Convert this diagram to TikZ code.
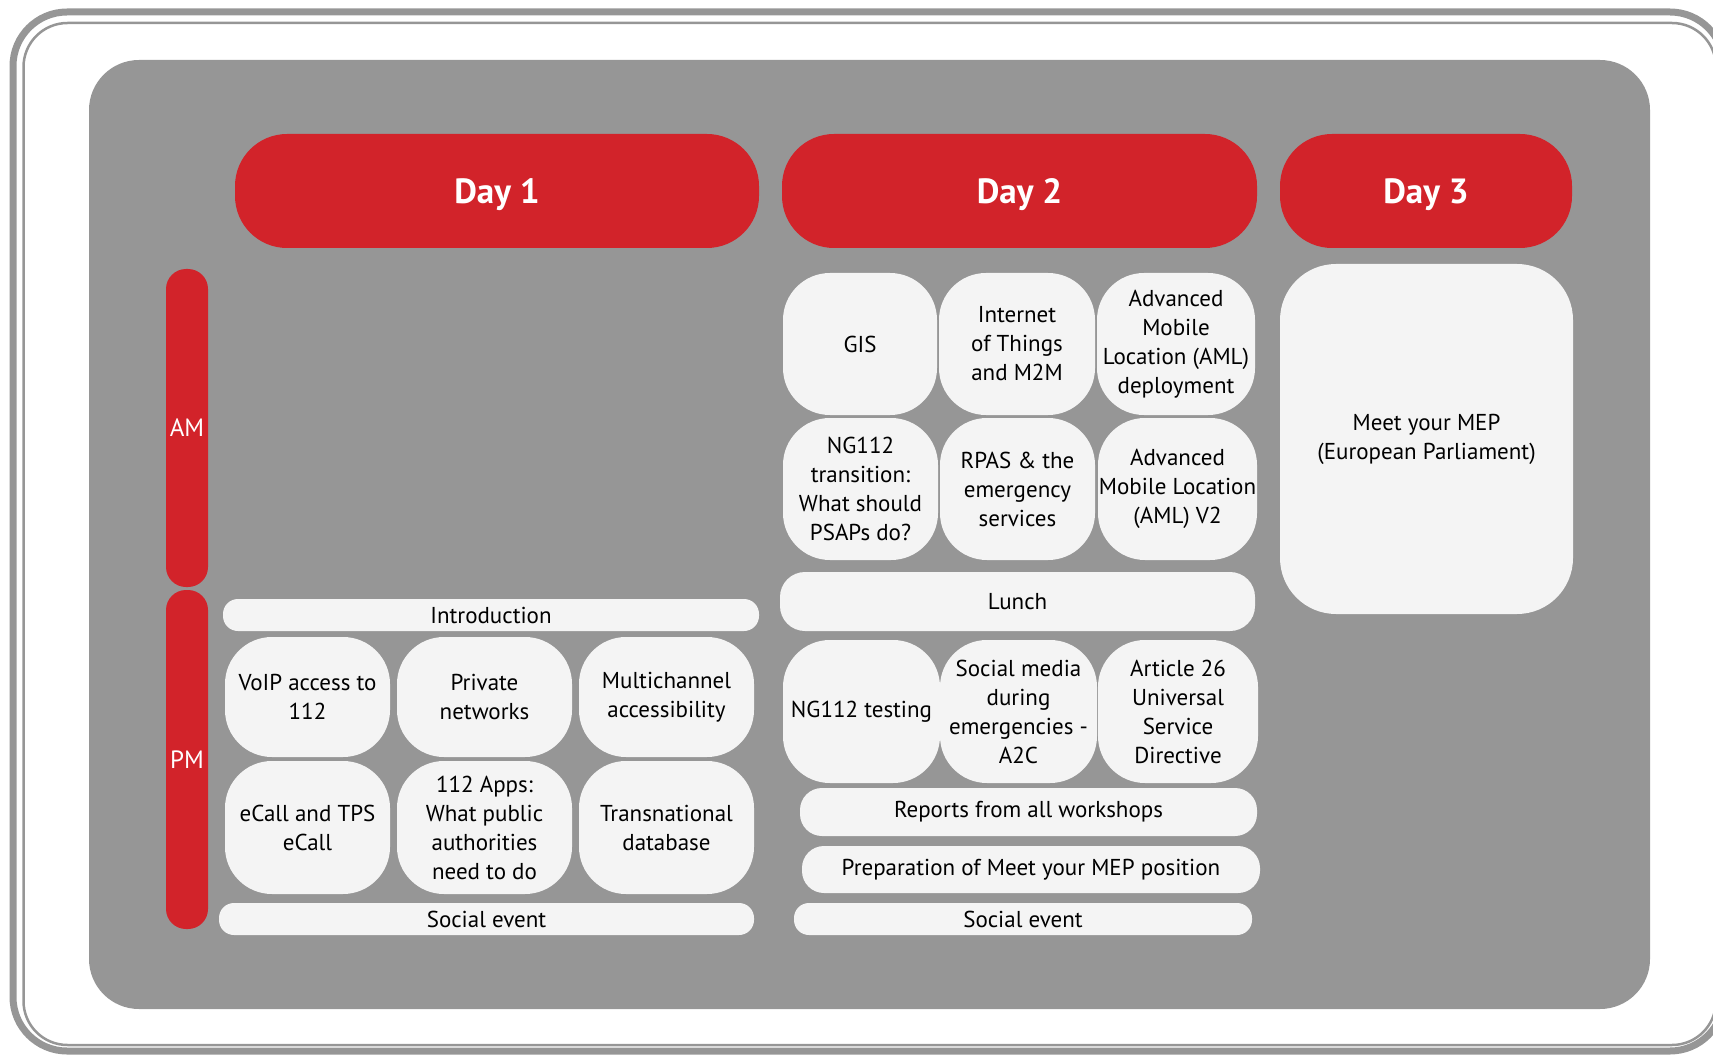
\documentclass[tikz,border=0pt]{standalone}
\usepackage{fontspec}
\setmainfont{PT Sans}
\definecolor{panelgray}{RGB}{150,150,150}
\definecolor{dayred}{RGB}{210,35,42}
\definecolor{boxwhite}{RGB}{244,244,244}

\begin{document}
\begin{tikzpicture}[x=1pt, y=-1pt,
    day/.style={fill=dayred, rounded corners=52pt, inner sep=0pt, text depth=0pt, text=white, font=\fontsize{35}{40}\selectfont\bfseries},
    half/.style={fill=dayred, rounded corners=20pt, inner sep=0pt, minimum width=42pt, text=white, font=\fontsize{25}{30}\selectfont},
    sess/.style={fill=boxwhite, rounded corners=47pt, inner sep=0pt, align=center, font=\fontsize{23}{29}\selectfont},
    band/.style={fill=boxwhite, rounded corners=15pt, inner sep=0pt, align=center, font=\fontsize{23}{29}\selectfont}
]
    \useasboundingbox (0,0) rectangle (1713,1056);
    \clip (0,0) rectangle (1713,1056);

    % frame and panel
    \draw[panelgray, line width=7pt, rounded corners=54pt] (13,12) rectangle (1724,1051);
    \draw[panelgray, line width=2.5pt, rounded corners=44pt] (23.5,23) rectangle (1716,1045);
    \fill[panelgray, rounded corners=50pt] (89,60) rectangle (1650,1009);

    % days
    \node[day, minimum width=524pt, minimum height=114pt] (day1) at (497,191) {Day 1};
    \node[day, minimum width=475pt, minimum height=114pt] (day2) at (1019.5,191) {Day 2};
    \node[day, minimum width=292pt, minimum height=114pt] (day3) at (1426,191) {Day 3};

    \node[half, minimum height=318pt] (am) at (187,428) {AM};
    \node[half, minimum height=339pt] (pm) at (187,759.5) {PM};

    % day 1
    \node[band, minimum width=536pt, minimum height=32pt] (intro) at (491,615) {Introduction};
    \node[sess, minimum width=165pt, minimum height=120pt] (voip) at (307.5,697) {VoIP access to\\112};
    \node[sess, minimum width=175pt, minimum height=120pt] (private) at (484.5,697) {Private\\networks};
    \node[sess, minimum width=175pt, minimum height=120pt] (multi) at (666.5,697) {Multichannel\\accessibility};
    \node[sess, minimum width=165pt, minimum height=133pt] (ecall) at (307.5,827.5) {eCall and TPS\\eCall};
    \node[sess, minimum width=175pt, minimum height=133pt] (apps) at (484.5,827.5) {112 Apps:\\What public\\authorities\\need to do};
    \node[sess, minimum width=175pt, minimum height=133pt] (transnat) at (666.5,827.5) {Transnational\\database};
    \node[band, minimum width=535pt, minimum height=32pt] (social1) at (486.5,919) {Social event};

    % day 2
    \node[sess, minimum width=154pt, minimum height=142pt] (gis) at (860,344) {GIS};
    \node[sess, minimum width=156pt, minimum height=142pt] (iot) at (1017,344) {Internet\\of Things\\and M2M};
    \node[sess, minimum width=158pt, minimum height=142pt] (aml) at (1176,344) {Advanced\\Mobile\\Location (AML)\\deployment};
    \node[sess, minimum width=155pt, minimum height=142pt] (ngtrans) at (860.5,489) {NG112\\transition:\\What should\\PSAPs do?};
    \node[sess, minimum width=155pt, minimum height=142pt] (rpas) at (1017.5,489) {RPAS \& the\\emergency\\services};
    \node[sess, minimum width=159pt, minimum height=142pt] (amlvtwo) at (1177.5,489) {Advanced\\Mobile Location\\(AML) V2};
    \node[band, rounded corners=25pt, minimum width=475pt, minimum height=59pt] (lunch) at (1017.5,601.5) {Lunch};
    \node[sess, minimum width=157pt, minimum height=143pt] (ngtest) at (861.5,711.5) {NG112 testing};
    \node[sess, minimum width=157pt, minimum height=143pt] (smedia) at (1018.5,711.5) {Social media\\during\\emergencies -\\A2C};
    \node[sess, minimum width=160pt, minimum height=143pt] (article) at (1178,711.5) {Article 26\\Universal\\Service\\Directive};
    \node[band, rounded corners=22pt, minimum width=457pt, minimum height=48pt] (reports) at (1028.5,812) {Reports from all workshops};
    \node[band, rounded corners=22pt, minimum width=458pt, minimum height=47pt] (prep) at (1031,869.5) {Preparation of Meet your MEP position};
    \node[band, minimum width=458pt, minimum height=32pt] (social2) at (1023,919) {Social event};

    % day 3
    \node[sess, rounded corners=56pt, minimum width=293pt, minimum height=350pt] (mep) at (1426.5,439) {Meet your MEP\\(European Parliament)};
\end{tikzpicture}
\end{document}
